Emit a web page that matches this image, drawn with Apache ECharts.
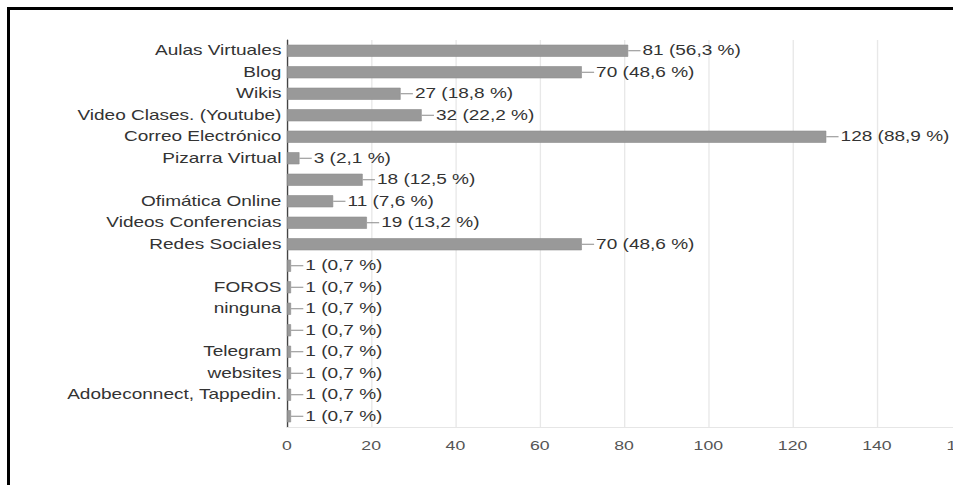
<!DOCTYPE html>
<html>
<head>
<meta charset="utf-8">
<script src="https://cdn.jsdelivr.net/npm/echarts@6/dist/echarts.min.js"></script>
<style>
  html, body { margin: 0; padding: 0; background: #fff; overflow: hidden; }
  #wrap { position: relative; width: 953px; height: 485px; overflow: hidden; }
  #chart { position: absolute; left: 0; top: 0; width: 701px; height: 485px;
           transform: scaleX(1.3595); transform-origin: 0 0; }
  #frame { position: absolute; left: 7px; top: 7px; right: 0; bottom: 0;
           border-left: 3px solid #000; border-top: 3px solid #000; pointer-events: none; }
</style>
</head>
<body>
<div id="wrap">
  <div id="chart"></div>
  <div id="frame"></div>
</div>
<script>
const categories = [
  'Aulas Virtuales', 'Blog', 'Wikis', 'Video Clases. (Youtube)', 'Correo Electrónico',
  'Pizarra Virtual', '', 'Ofimática Online', 'Videos Conferencias', 'Redes Sociales',
  '', 'FOROS', 'ninguna', '', 'Telegram', 'websites', 'Adobeconnect, Tappedin.', ''
];
const counts = [81, 70, 27, 32, 128, 3, 18, 11, 19, 70, 1, 1, 1, 1, 1, 1, 1, 1];
const percents = ['56,3', '48,6', '18,8', '22,2', '88,9', '2,1', '12,5', '7,6', '13,2', '48,6',
  '0,7', '0,7', '0,7', '0,7', '0,7', '0,7', '0,7', '0,7'];
const xTicks = { min: 0, max: 160, interval: 20 };

const chart = echarts.init(document.getElementById('chart'), null, { renderer: 'svg' });
const font = 'Arial, "Liberation Sans", sans-serif';
chart.setOption({
  animation: false,
  backgroundColor: '#ffffff',
  grid: { left: 211, right: -6, top: 40, bottom: 58, containLabel: false, outerBoundsMode: 'none' },
  xAxis: {
    type: 'value',
    min: xTicks.min, max: xTicks.max, interval: xTicks.interval,
    axisLine: { show: true, lineStyle: { color: '#e6e6e6', width: 1 } },
    axisTick: { show: false },
    splitLine: { show: true, lineStyle: { color: '#e8e8e8', width: 1 } },
    axisLabel: { color: '#555', fontSize: 13, fontFamily: font, margin: 12 }
  },
  yAxis: {
    type: 'category',
    inverse: true,
    data: categories,
    axisLine: { show: true, lineStyle: { color: '#444', width: 1 } },
    axisTick: { show: false },
    splitLine: { show: false },
    axisLabel: { color: '#333', fontSize: 14, fontFamily: font, margin: 4, interval: 0 }
  },
  series: [{
    type: 'bar',
    data: counts,
    barWidth: 12,
    itemStyle: { color: '#999999', borderColor: '#8c8c8c', borderWidth: 0.5 },
    label: {
      show: true,
      position: 'right',
      distance: 0,
      formatter: p => '{l|}{t|' + counts[p.dataIndex] + ' (' + percents[p.dataIndex] + ' %)}',
      rich: {
        l: { width: 9, height: 1, backgroundColor: '#8a8a8a' },
        t: { color: '#333', fontSize: 14, fontFamily: font, padding: [0, 0, 0, 1.5] }
      }
    }
  }]
});
</script>
</body>
</html>
